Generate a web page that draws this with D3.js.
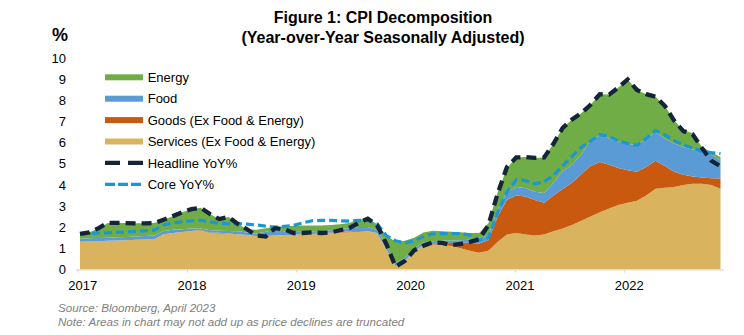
<!DOCTYPE html>
<html>
<head>
<meta charset="utf-8">
<script src="https://cdn.jsdelivr.net/npm/d3@7"></script>
<style>
  body { margin: 0; background: #fff; }
  svg { display: block; font-family: "Liberation Sans", Arial, sans-serif; }
</style>
</head>
<body>
<div id="chart-area"></div>
<script>
// CPI decomposition, contributions in percentage points (monthly)

const yearTicks = [2017, 2018, 2019, 2020, 2021, 2022]

const services = [1.30,1.32,1.33,1.35,1.36,1.38,1.40,1.41,1.43,1.66,
  1.72,1.77,1.82,1.84,1.72,1.70,1.68,1.66,1.62,1.58,
  1.58,1.60,1.62,1.63,1.67,1.69,1.70,1.72,1.73,1.76,
  1.78,1.80,1.72,0.95,0.15,0.40,0.85,1.15,1.18,1.16,
  1.10,1.00,0.88,0.78,0.88,1.30,1.65,1.72,1.65,1.60,
  1.65,1.80,1.93,2.10,2.30,2.50,2.70,2.88,3.05,3.15,
  3.25,3.50,3.82,3.86,3.90,4.00,4.05,4.06,4.00,3.82]

const goods = [0,0,0,0,0,0,0,0,0,0,
  0,0,0,0.02,0.03,0.03,0.02,0,0,0,
  0,0,0,0,0.03,0.03,0.03,0.03,0.03,0.03,
  0.03,0,0,0,0,0,0,0,0.02,0.06,
  0.15,0.28,0.37,0.44,0.50,1.20,1.65,1.78,1.80,1.68,
  1.50,1.70,1.87,2.00,2.20,2.40,2.38,2.07,1.75,1.55,
  1.37,1.35,1.33,1.04,0.72,0.48,0.35,0.29,0.32,0.48]

const food = [0.15,0.15,0.15,0.15,0.16,0.15,0.16,0.17,0.17,0.16,
  0.15,0.13,0.11,0.07,0.10,0.10,0.12,0.14,0.12,0.12,
  0.20,0.28,0.18,0.14,0.08,0.08,0.09,0.10,0.14,0.17,
  0.19,0.20,0.13,0.20,0.15,0.15,0.15,0.13,0.13,0.14,
  0.12,0.10,0.15,0.28,0.22,0.35,0.35,0.40,0.40,0.40,
  0.47,0.60,0.85,0.85,0.95,1.20,1.27,1.25,1.25,1.25,
  1.26,1.35,1.35,1.30,1.34,1.32,1.28,1.25,1.13,0.85]

const energy = [0.23,0.28,0.47,0.70,0.68,0.66,0.62,0.60,0.59,0.53,
  0.65,0.80,0.92,0.99,0.77,0.55,0.66,0.35,0.16,0.17,
  0.17,0.12,0.23,0.29,0.30,0.28,0.26,0.25,0.24,0.24,
  0.35,0.40,0.30,0.45,1.00,0.80,0.50,0.47,0.50,0.44,
  0.41,0.38,0.32,0.22,0.60,0.80,1.15,1.40,1.47,1.60,
  1.68,1.85,2.05,2.15,1.95,1.70,1.95,2.08,2.57,3.05,
  2.62,2.10,1.68,1.55,1.09,0.80,0.77,0.20,0.10,0.17]

const headline = [1.68,1.75,1.95,2.20,2.20,2.19,2.18,2.18,2.19,2.35,
  2.52,2.70,2.85,2.92,2.62,2.38,2.48,2.15,1.90,1.60,
  1.55,1.95,1.90,1.72,1.72,1.75,1.72,1.75,1.85,1.95,
  2.20,2.40,2.10,1.20,0.12,0.40,0.90,1.12,1.28,1.25,
  1.15,1.20,1.30,1.42,2.10,3.60,4.85,5.30,5.32,5.28,
  5.30,5.95,6.70,7.10,7.40,7.80,8.30,8.28,8.62,9.00,
  8.50,8.30,8.18,7.75,7.05,6.55,6.40,5.75,5.15,4.88]

const core = [1.68,1.70,1.72,1.73,1.75,1.77,1.80,1.83,1.86,2.10,
  2.20,2.25,2.30,2.32,2.25,2.18,2.16,2.16,2.14,2.10,
  2.05,2.00,2.04,2.08,2.20,2.30,2.32,2.32,2.30,2.28,
  2.32,2.32,2.15,1.60,1.35,1.25,1.35,1.55,1.68,1.69,
  1.69,1.69,1.62,1.40,1.50,2.70,3.67,4.25,4.20,4.05,
  4.15,4.45,4.90,5.35,5.78,6.08,6.38,6.30,6.08,5.96,
  5.88,6.20,6.58,6.37,6.10,5.90,5.75,5.60,5.53,5.48]

const WIDTH = 744
const HEIGHT = 335
const PLOT = { LEFT: 77.7, RIGHT: 724, TOP: 58.3, BOTTOM: 269.3 }

const layers = [
  { key: "services", label: "Services (Ex Food & Energy)", color: "#DAB35F", values: services },
  { key: "goods", label: "Goods (Ex Food & Energy)", color: "#C9590E", values: goods },
  { key: "food", label: "Food", color: "#5B9BD5", values: food },
  { key: "energy", label: "Energy", color: "#70AD47", values: energy }
]

const lines = [
  { label: "Headline YoY%", color: "#14253A", width: 4.3, dash: "10,6", legendDash: "15,8", values: headline },
  { label: "Core YoY%", color: "#1C97D3", width: 3.2, dash: "8,4", legendDash: "10,3", values: core }
]

const N = headline.length
const rows = d3.range(N).map(i => {
  const r = { i: i }
  layers.forEach(l => { r[l.key] = l.values[i] })
  return r
})

const svg = d3.select("#chart-area").append("svg")
  .attr("width", WIDTH)
  .attr("height", HEIGHT)

// scales
const x = d3.scaleLinear().domain([0, N - 1]).range([80, 720.5])
const xYear = d3.scaleLinear().domain([2017, 2022]).range([PLOT.LEFT, 624.2])
const y = d3.scaleLinear().domain([0, 10]).range([PLOT.BOTTOM, PLOT.TOP])

// titles
svg.append("text")
  .attr("x", 383).attr("y", 23)
  .attr("text-anchor", "middle")
  .attr("font-size", 16).attr("font-weight", "bold")
  .text("Figure 1: CPI Decomposition")
svg.append("text")
  .attr("x", 383).attr("y", 42.5)
  .attr("text-anchor", "middle")
  .attr("font-size", 16).attr("font-weight", "bold")
  .text("(Year-over-Year Seasonally Adjusted)")
svg.append("text")
  .attr("x", 52).attr("y", 41)
  .attr("font-size", 18).attr("font-weight", "bold")
  .text("%")

// stacked areas
const stack = d3.stack().keys(layers.map(l => l.key))
const series = stack(rows)

const area = d3.area()
  .x(d => x(d.data.i))
  .y0(d => y(d[0]))
  .y1(d => y(d[1]))

svg.append("g").selectAll("path")
  .data(series)
  .enter().append("path")
  .attr("fill", (d, i) => layers[i].color)
  .attr("d", area)

// axes
const yAxisCall = d3.axisLeft(y).ticks(10).tickSize(0).tickPadding(3)
const yAxis = svg.append("g")
  .attr("transform", "translate(69, 0)")
  .call(yAxisCall)
yAxis.select(".domain").remove()
yAxis.selectAll("text").attr("font-size", 13).attr("fill", "#000")
  .attr("font-family", "Liberation Sans, Arial, sans-serif")

svg.append("line")
  .attr("x1", 76).attr("x2", 724)
  .attr("y1", PLOT.BOTTOM + 0.5).attr("y2", PLOT.BOTTOM + 0.5)
  .attr("stroke", "#D9D9D9").attr("stroke-width", 1.2)

const xAxisCall = d3.axisBottom(xYear)
  .tickValues(yearTicks)
  .tickFormat(d3.format("d"))
  .tickSize(3)
  .tickPadding(8.3)
const xAxis = svg.append("g")
  .attr("transform", `translate(0, ${PLOT.BOTTOM + 0.5})`)
  .call(xAxisCall)
xAxis.select(".domain").remove()
xAxis.selectAll(".tick line").attr("stroke", "#D9D9D9")
xAxis.selectAll("text").attr("font-size", 13).attr("fill", "#000")
  .attr("dx", 4.5)
  .attr("font-family", "Liberation Sans, Arial, sans-serif")

// dashed YoY lines
lines.slice().reverse().forEach(l => {
  const line = d3.line()
    .x((d, i) => x(i))
    .y(d => y(d))
  svg.append("path")
    .attr("fill", "none")
    .attr("stroke", l.color)
    .attr("stroke-width", l.width)
    .attr("stroke-dasharray", l.dash)
    .attr("d", line(l.values))
})

// legend
const legendItems = layers.slice().reverse().map(l => ({ type: "area", label: l.label, color: l.color }))
  .concat(lines.map(l => ({ type: "line", label: l.label, color: l.color, width: l.width, dash: l.legendDash })))

const legend = svg.append("g").attr("transform", "translate(105, 77.3)")
legendItems.forEach((item, i) => {
  const row = legend.append("g").attr("transform", `translate(0, ${i * 21.4})`)
  if (item.type === "area") {
    row.append("rect")
      .attr("x", 0).attr("y", -3)
      .attr("width", 38).attr("height", 6)
      .attr("fill", item.color)
  } else {
    row.append("line")
      .attr("x1", 0).attr("x2", 38)
      .attr("stroke", item.color)
      .attr("stroke-width", item.width)
      .attr("stroke-dasharray", item.dash)
  }
  row.append("text")
    .attr("x", 42.7).attr("y", 4.6)
    .attr("font-size", 13)
    .text(item.label)
})

// footnotes
svg.append("text")
  .attr("x", 58).attr("y", 312)
  .attr("font-size", 11.6).attr("font-style", "italic").attr("fill", "#808080")
  .text("Source: Bloomberg, April 2023")
svg.append("text")
  .attr("x", 58).attr("y", 326)
  .attr("font-size", 11.6).attr("font-style", "italic").attr("fill", "#808080")
  .text("Note: Areas in chart may not add up as price declines are truncated")
</script>
</body>
</html>
